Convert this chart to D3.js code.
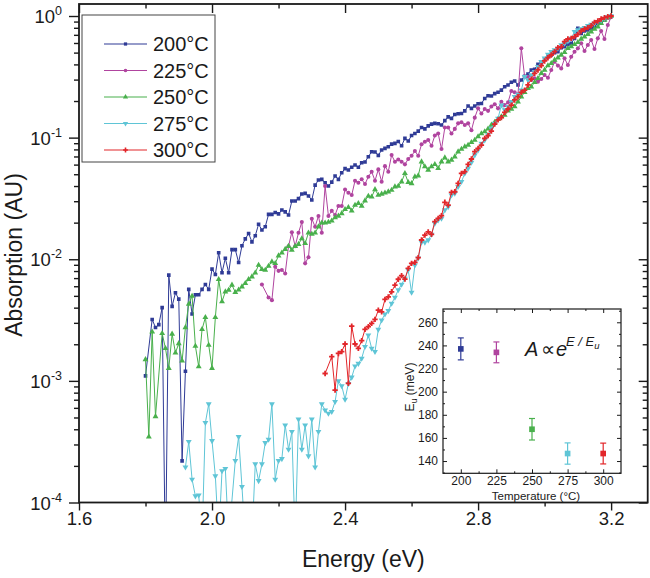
<!DOCTYPE html>
<html><head><meta charset="utf-8">
<script src="https://cdn.jsdelivr.net/npm/d3@7"></script>
<style>
body{margin:0;background:#fff}
svg{display:block}
text{font-family:"Liberation Sans",Arial,Helvetica,sans-serif;fill:#1a1a1a}
</style>
</head><body>
<svg id="chart" width="650" height="578"></svg>
<script>
// ---------------- DATA ----------------
const energies = [
1.80,1.81,1.82,1.83,1.84,1.85,1.86,1.87,1.88,1.89,
1.90,1.91,1.92,1.93,1.94,1.95,1.96,1.97,1.98,1.99,
2.00,2.01,2.02,2.03,2.04,2.05,2.06,2.07,2.08,2.09,
2.10,2.11,2.12,2.13,2.14,2.15,2.16,2.17,2.18,2.19,
2.20,2.21,2.22,2.23,2.24,2.25,2.26,2.27,2.28,2.29,
2.30,2.31,2.32,2.33,2.34,2.35,2.36,2.37,2.38,2.39,
2.40,2.41,2.42,2.43,2.44,2.45,2.46,2.47,2.48,2.49,
2.50,2.51,2.52,2.53,2.54,2.55,2.56,2.57,2.58,2.59,
2.60,2.61,2.62,2.63,2.64,2.65,2.66,2.67,2.68,2.69,
2.70,2.71,2.72,2.73,2.74,2.75,2.76,2.77,2.78,2.79,
2.80,2.81,2.82,2.83,2.84,2.85,2.86,2.87,2.88,2.89,
2.90,2.91,2.92,2.93,2.94,2.95,2.96,2.97,2.98,2.99,
3.00,3.01,3.02,3.03,3.04,3.05,3.06,3.07,3.08,3.09,
3.10,3.11,3.12,3.13,3.14,3.15,3.16,3.17,3.18,3.19,
3.20];

const abs200 = [
1.1e-3,null,3.2e-3,2.75e-3,2.9e-3,4.0e-3,3e-5,7.4e-3,4.1e-3,5.3e-3,
4.7e-3,2.2e-4,1.2e-3,5.65e-3,3.55e-3,5.1e-3,5.1e-3,5.65e-3,6.2e-3,5.65e-3,
8.3e-3,7.5e-3,1.13e-2,7.75e-3,1.02e-2,7.75e-3,1.2e-2,1.2e-2,9.4e-3,1.29e-2,
1.47e-2,1.63e-2,1.39e-2,1.56e-2,1.94e-2,1.74e-2,1.85e-2,2.34e-2,2.34e-2,2.42e-2,
2.36e-2,2.54e-2,2.45e-2,2.31e-2,3.01e-2,3.01e-2,3.15e-2,3.44e-2,3.48e-2,3.31e-2,
3.07e-2,4.07e-2,4.48e-2,4.54e-2,4.26e-2,4.0e-2,4.31e-2,4.83e-2,4.54e-2,5.15e-2,
5.56e-2,5.42e-2,5.7e-2,5.96e-2,5.7e-2,6.22e-2,6.3e-2,6.97e-2,7.66e-2,7.61e-2,
7.15e-2,7.91e-2,8.16e-2,8.42e-2,8.85e-2,8.97e-2,9.3e-2,8.58e-2,9.86e-2,9.37e-2,
0.104,0.108,0.113,0.121,0.118,0.125,0.129,0.131,0.130,0.127,
0.138,0.148,0.144,0.155,0.157,0.158,0.166,0.182,0.174,0.182,
0.190,0.191,0.210,0.221,0.220,0.230,0.236,0.246,0.262,0.271,
0.285,0.292,0.271,0.298,0.319,0.333,0.360,0.364,0.401,0.413,
0.440,0.463,0.478,0.500,0.509,0.549,0.560,0.585,0.596,0.655,
0.792,0.720,0.753,0.767,0.792,0.817,0.871,0.871,0.927,0.969,
0.99];

const abs225 = [
null,null,null,null,null,null,null,null,null,null,
null,null,null,null,null,null,null,null,null,null,
null,null,null,null,null,null,null,null,null,null,
null,null,null,null,null,6.2e-3,null,4.84e-3,4.61e-3,8.67e-3,
8.03e-3,8.15e-3,7.64e-3,1.28e-2,1.67e-2,1.28e-2,1.65e-2,2.02e-2,9.25e-3,1.04e-2,
2.15e-2,1.85e-2,2.27e-2,1.65e-2,4.0e-2,2.27e-2,2.5e-2,2.31e-2,2.74e-2,2.74e-2,
3.75e-2,3.52e-2,3.37e-2,4.42e-2,4.26e-2,4.54e-2,4.15e-2,4.77e-2,5.25e-2,4.42e-2,
5.48e-2,4.34e-2,5.83e-2,5.25e-2,7.19e-2,6.34e-2,6.6e-2,6.34e-2,6.03e-2,6.67e-2,
7.1e-2,7.76e-2,7.1e-2,8.81e-2,9.26e-2,9.55e-2,8.58e-2,0.104,0.108,8.05e-2,
0.121,0.121,0.108,0.118,0.131,0.134,0.127,0.131,0.115,0.146,
0.174,0.158,0.172,0.166,0.180,0.188,0.174,0.197,0.185,0.195,
0.242,0.236,0.227,0.542,0.317,0.317,0.298,0.307,0.288,0.303,
0.327,0.311,0.360,0.421,0.391,0.371,0.449,0.395,0.463,0.509,
0.542,0.596,0.515,0.578,0.635,0.535,0.655,0.753,0.647,0.843,
0.98];

const abs250 = [
1.5e-3,3.47e-4,2.53e-3,5.1e-4,null,2.46e-3,1.85e-3,1.27e-3,2.43e-3,1.70e-3,
2.03e-3,1.46e-3,2.75e-3,4.28e-3,4.98e-3,1.93e-3,1.31e-3,2.65e-3,3.33e-3,1.97e-3,
1.27e-3,3.33e-3,6.83e-3,4.48e-3,5.41e-3,5.58e-3,6.14e-3,5.35e-3,5.6e-3,5.94e-3,
6.33e-3,6.83e-3,7.18e-3,7.74e-3,8.95e-3,8.25e-3,8.15e-3,8.79e-3,9.55e-3,9.25e-3,
1.07e-2,1.13e-2,1.21e-2,1.28e-2,1.19e-2,1.28e-2,1.33e-2,1.48e-2,1.35e-2,1.65e-2,
1.61e-2,1.65e-2,1.85e-2,1.99e-2,1.99e-2,2.02e-2,2.07e-2,2.2e-2,2.27e-2,2.38e-2,
2.57e-2,2.67e-2,2.5e-2,2.79e-2,2.88e-2,2.74e-2,3.03e-2,3.31e-2,3.26e-2,3.75e-2,
3.37e-2,3.44e-2,3.52e-2,3.59e-2,3.7e-2,3.95e-2,4.0e-2,4.34e-2,5.08e-2,4.29e-2,
4.2e-2,4.77e-2,4.86e-2,6.34e-2,5.77e-2,5.42e-2,5.77e-2,6.03e-2,5.59e-2,6.34e-2,
6.84e-2,6.34e-2,6.55e-2,6.97e-2,7.66e-2,8.05e-2,8.42e-2,8.69e-2,9.14e-2,9.55e-2,
0.102,0.108,0.112,0.118,0.127,0.134,0.142,0.149,0.153,0.166,
0.172,0.180,0.197,0.217,0.236,0.254,0.262,0.285,0.307,0.338,
0.360,0.391,0.408,0.435,0.454,0.478,0.502,0.542,0.560,0.585,
0.607,0.647,0.676,0.707,0.743,0.782,0.817,0.871,0.927,0.969,
1.0];

const abs275 = [
null,null,null,null,null,null,null,null,null,null,
null,null,1.95e-4,3.16e-4,1.55e-4,1.13e-4,1.15e-4,5e-5,4.53e-4,6.45e-4,
3.22e-4,1.65e-4,5e-5,1.82e-4,1.9e-4,5e-5,null,2.21e-4,3.47e-4,1.35e-4,
5e-5,3e-5,5e-5,2.07e-4,1.51e-4,2.07e-4,3.1e-4,3.3e-4,6.45e-4,1.55e-4,
2.21e-4,2.29e-4,4.33e-4,2.73e-4,3.82e-4,5e-5,4.83e-4,2.73e-4,4.33e-4,2.41e-4,
4.83e-4,1.95e-4,3.82e-4,6.45e-4,5.75e-4,5.4e-4,5.58e-4,6.75e-4,1.0e-3,9.1e-4,
7.05e-4,9.5e-4,1.07e-3,1.32e-3,1.39e-3,1.53e-3,1.91e-3,2.38e-3,1.85e-3,1.74e-3,
2.65e-3,3.16e-3,3.54e-3,3.77e-3,4.34e-3,4.85e-3,5.6e-3,6.21e-3,6.96e-3,8.15e-3,
5.34e-3,8.95e-3,1.02e-2,1.38e-2,1.38e-2,1.44e-2,1.6e-2,1.97e-2,2.1e-2,2.17e-2,
2.54e-2,2.7e-2,3.37e-2,3.48e-2,3.95e-2,4.34e-2,5.08e-2,5.59e-2,6.26e-2,7.19e-2,
7.91e-2,8.97e-2,9.55e-2,0.105,0.119,0.131,0.144,0.185,0.169,0.180,
0.197,0.217,0.227,0.246,0.317,0.298,0.327,0.348,0.383,0.421,
0.449,0.484,0.509,0.525,0.542,0.578,0.596,0.623,0.655,0.743,
0.767,0.782,0.802,0.833,0.854,0.871,0.898,0.927,0.957,0.981,
1.0];

const abs300 = [
null,null,null,null,null,null,null,null,null,null,
null,null,null,null,null,null,null,null,null,null,
null,null,null,null,null,null,null,null,null,null,
null,null,null,null,null,null,null,null,null,null,
null,null,null,null,null,null,null,null,null,null,
null,null,null,null,1.15e-3,null,1.58e-3,8.4e-4,1.68e-3,1.74e-3,
2.01e-3,9.55e-4,2.82e-3,2.01e-3,1.85e-3,2.14e-3,2.65e-3,2.79e-3,2.97e-3,3.2e-3,
3.82e-3,3.7e-3,4.67e-3,4.91e-3,5.4e-3,6.12e-3,6.85e-3,7.33e-3,6.87e-3,8.41e-3,
9.25e-3,9.42e-3,1.03e-2,1.44e-2,1.58e-2,1.68e-2,1.6e-2,2.04e-2,2.17e-2,2.28e-2,
2.94e-2,2.79e-2,3.55e-2,3.59e-2,4.2e-2,5.08e-2,5.25e-2,6.03e-2,6.67e-2,7.66e-2,
8.16e-2,8.69e-2,9.86e-2,0.104,0.113,0.129,0.140,0.146,0.161,0.172,
0.185,0.204,0.217,0.236,0.246,0.271,0.303,0.338,0.360,0.391,
0.427,0.454,0.478,0.509,0.549,0.560,0.615,0.647,0.655,0.676,
0.707,0.753,0.782,0.802,0.833,0.887,0.910,0.945,0.969,0.987,
1.0];

const seriesLabels = ["200°C","225°C","250°C","275°C","300°C"];
const xTickValues = [1.6, 2.0, 2.4, 2.8, 3.2];
const xTickLabels = ["1.6","2.0","2.4","2.8","3.2"];
const yTickExponents = [0, -1, -2, -3, -4];

// inset data
const insetTemps = [200, 225, 250, 275, 300];
const insetEu = [237, 234, 167.5, 146.5, 146.5];
const insetErr = [9.5, 9, 9.3, 9.2, 9];
const insetXTicks = [200, 225, 250, 275, 300];
const insetYTicks = [140, 160, 180, 200, 220, 240, 260];

// ---------------- STYLE ----------------
const colors = ["#2f3b96", "#b0449f", "#49b04c", "#5fc5d6", "#e2262a"];
const symbols = [d3.symbolSquare, d3.symbolCircle, d3.symbolTriangle, d3.symbolTriangle, d3.symbolCross];
const symSizes = [13, 13, 15, 15, 16];
const symRot = [0, 0, 0, 180, 0];
const ink = "#1a1a1a";

const svg = d3.select("#chart");
const L = 79, R = 647.7, T = 4, B = 502.5;

const x = d3.scaleLinear().domain([1.6, 3.31]).range([L, R]);
const y = d3.scaleLog().domain([1e-4, Math.pow(10, 0.0987)]).range([B, T]);

svg.append("defs").append("clipPath").attr("id", "plotclip")
  .append("rect").attr("x", L).attr("y", T).attr("width", R - L).attr("height", B - T);

// ---------------- SERIES ----------------
const plot = svg.append("g").attr("clip-path", "url(#plotclip)");
const allSeries = [abs200, abs225, abs250, abs275, abs300];
const line = d3.line().x(d => x(d.e)).y(d => y(d.v));

allSeries.forEach((vals, si) => {
  const pts = energies.map((e, i) => ({e, v: vals[i]})).filter(d => d.v != null);
  plot.append("path").datum(pts)
    .attr("d", line).attr("fill", "none")
    .attr("stroke", colors[si]).attr("stroke-width", 1).attr("stroke-linejoin", "round");
  const sym = d3.symbol().type(symbols[si]).size(symSizes[si]);
  plot.append("g").selectAll("path").data(pts).join("path")
    .attr("d", sym)
    .attr("transform", d => `translate(${x(d.e)},${y(d.v)}) rotate(${symRot[si]})`)
    .attr("fill", colors[si]);
});

// ---------------- AXES ----------------
function styleAxis(g) {
  g.select(".domain").remove();
  g.selectAll(".tick line").attr("stroke", ink).attr("stroke-width", 1.4);
}
const xMinor = [1.8, 2.2, 2.6, 3.0];
const yMinor = [];
for (let d = -4; d < 0; d++) for (let m = 2; m <= 9; m++) yMinor.push(m * Math.pow(10, d));

// bottom
svg.append("g").attr("transform", `translate(0,${B})`)
  .call(d3.axisBottom(x).tickValues(xTickValues).tickFormat((d, i) => xTickLabels[i]).tickSize(8).tickPadding(1.5))
  .call(styleAxis)
  .call(g => g.selectAll("text").attr("font-size", 18.5).attr("fill", ink)
        .attr("font-family", "Liberation Sans, Arial, sans-serif"));
svg.append("g").attr("transform", `translate(0,${B})`)
  .call(d3.axisBottom(x).tickValues(xMinor).tickFormat("").tickSize(4)).call(styleAxis);
// top
svg.append("g").attr("transform", `translate(0,${T})`)
  .call(d3.axisTop(x).tickValues(xTickValues).tickFormat("").tickSize(-9)).call(styleAxis);
svg.append("g").attr("transform", `translate(0,${T})`)
  .call(d3.axisTop(x).tickValues(xMinor).tickFormat("").tickSize(-4.5)).call(styleAxis);
// left
const yMajorVals = yTickExponents.map(p => Math.pow(10, p));
const leftAx = svg.append("g").attr("transform", `translate(${L},0)`)
  .call(d3.axisLeft(y).tickValues(yMajorVals).tickFormat(() => "").tickSize(10).tickPadding(7))
  .call(styleAxis);
leftAx.selectAll(".tick text").each(function(d, i) {
  const t = d3.select(this).attr("font-size", 18.5).attr("dy", null).attr("y", 6.5)
    .attr("font-family", "Liberation Sans, Arial, sans-serif").attr("fill", ink);
  t.append("tspan").text("10");
  t.append("tspan").attr("font-size", 12.5).attr("dy", -8).text(String(yTickExponents[i]));
});
svg.append("g").attr("transform", `translate(${L},0)`)
  .call(d3.axisLeft(y).tickValues(yMinor).tickFormat("").tickSize(5)).call(styleAxis);
// right
svg.append("g").attr("transform", `translate(${R},0)`)
  .call(d3.axisRight(y).tickValues(yMajorVals).tickFormat("").tickSize(-9)).call(styleAxis);
svg.append("g").attr("transform", `translate(${R},0)`)
  .call(d3.axisRight(y).tickValues(yMinor).tickFormat("").tickSize(-5)).call(styleAxis);

// frame
svg.append("rect").attr("x", L).attr("y", T).attr("width", R - L).attr("height", B - T)
  .attr("fill", "none").attr("stroke", ink).attr("stroke-width", 1.8);

// axis titles
svg.append("text").attr("x", (L + R) / 2).attr("y", 567).attr("text-anchor", "middle")
  .attr("font-size", 23).text("Energy (eV)");
svg.append("text").attr("transform", "translate(21.5,255) rotate(-90)").attr("text-anchor", "middle")
  .attr("font-size", 23).text("Absorption (AU)");

// ---------------- LEGEND ----------------
const lg = svg.append("g");
lg.append("rect").attr("x", 82).attr("y", 15).attr("width", 133).attr("height", 147)
  .attr("fill", "#fff").attr("stroke", "#444").attr("stroke-width", 1);
seriesLabels.forEach((lab, i) => {
  const yy = 44 + i * 26.5;
  lg.append("line").attr("x1", 104).attr("x2", 147).attr("y1", yy).attr("y2", yy)
    .attr("stroke", colors[i]).attr("stroke-width", 1.1);
  lg.append("path").attr("d", d3.symbol().type(symbols[i]).size(symSizes[i] * 0.8))
    .attr("transform", `translate(125.5,${yy}) rotate(${symRot[i]})`).attr("fill", colors[i]);
  lg.append("text").attr("x", 153).attr("y", yy).attr("dy", "0.36em")
    .attr("font-size", 20).text(lab);
});

// ---------------- INSET ----------------
const iL = 443, iR = 621, iT = 309, iB = 473.3;
const ix = d3.scaleLinear().domain([187.5, 312.5]).range([iL, iR]);
const iy = d3.scaleLinear().domain([129.4, 271.5]).range([iB, iT]);
const inset = svg.append("g");
inset.append("rect").attr("x", iL).attr("y", iT).attr("width", iR - iL).attr("height", iB - iT)
  .attr("fill", "#fff");

const ixMinor = [212.5, 237.5, 262.5, 287.5];
const iyMinor = [130, 150, 170, 190, 210, 230, 250, 270];
function styleInset(g) {
  g.select(".domain").remove();
  g.selectAll(".tick line").attr("stroke", ink).attr("stroke-width", 1);
  g.selectAll(".tick text").attr("font-size", 12).attr("fill", ink)
    .attr("font-family", "Liberation Sans, Arial, sans-serif");
}
inset.append("g").attr("transform", `translate(0,${iB})`)
  .call(d3.axisBottom(ix).tickValues(insetXTicks).tickFormat(d3.format("d")).tickSize(-4).tickPadding(3.5)).call(styleInset);
inset.append("g").attr("transform", `translate(0,${iB})`)
  .call(d3.axisBottom(ix).tickValues(ixMinor).tickFormat("").tickSize(-2)).call(styleInset);
inset.append("g").attr("transform", `translate(0,${iT})`)
  .call(d3.axisTop(ix).tickValues(insetXTicks).tickFormat("").tickSize(-4)).call(styleInset);
inset.append("g").attr("transform", `translate(0,${iT})`)
  .call(d3.axisTop(ix).tickValues(ixMinor).tickFormat("").tickSize(-2)).call(styleInset);
inset.append("g").attr("transform", `translate(${iL},0)`)
  .call(d3.axisLeft(iy).tickValues(insetYTicks).tickFormat(d3.format("d")).tickSize(-4).tickPadding(5)).call(styleInset);
inset.append("g").attr("transform", `translate(${iL},0)`)
  .call(d3.axisLeft(iy).tickValues(iyMinor).tickFormat("").tickSize(-2)).call(styleInset);
inset.append("g").attr("transform", `translate(${iR},0)`)
  .call(d3.axisRight(iy).tickValues(insetYTicks).tickFormat("").tickSize(-4)).call(styleInset);
inset.append("g").attr("transform", `translate(${iR},0)`)
  .call(d3.axisRight(iy).tickValues(iyMinor).tickFormat("").tickSize(-2)).call(styleInset);
inset.append("rect").attr("x", iL).attr("y", iT).attr("width", iR - iL).attr("height", iB - iT)
  .attr("fill", "none").attr("stroke", ink).attr("stroke-width", 1.2);

// error bars + points
insetTemps.forEach((t, i) => {
  const cx = ix(t), c = colors[i];
  const y1 = iy(insetEu[i] + insetErr[i]), y2 = iy(insetEu[i] - insetErr[i]);
  inset.append("line").attr("x1", cx).attr("x2", cx).attr("y1", y1).attr("y2", y2).attr("stroke", c).attr("stroke-width", 1.2);
  [y1, y2].forEach(yy => inset.append("line").attr("x1", cx - 3).attr("x2", cx + 3).attr("y1", yy).attr("y2", yy)
    .attr("stroke", c).attr("stroke-width", 1.2));
  inset.append("path").attr("d", d3.symbol().type(d3.symbolSquare).size(32))
    .attr("transform", `translate(${cx},${iy(insetEu[i])})`).attr("fill", c);
});

// inset titles
inset.append("text").attr("x", 536).attr("y", 500).attr("text-anchor", "middle").attr("font-size", 11.5)
  .text("Temperature (°C)");
const ylab = inset.append("text").attr("transform", "translate(414,387) rotate(-90)")
  .attr("text-anchor", "middle").attr("font-size", 12);
ylab.append("tspan").text("E");
ylab.append("tspan").attr("font-size", 8.5).attr("dy", 3).text("u");
ylab.append("tspan").attr("dy", -3).text(" (meV)");

// formula
const f = inset.append("text").attr("y", 356).attr("font-family", "Liberation Serif, Times New Roman, serif")
  .attr("font-size", 20);
f.append("tspan").attr("x", 525).attr("font-style", "italic").text("A");
f.append("tspan").attr("x", 541).text("∝");
f.append("tspan").attr("x", 556).attr("font-style", "italic").text("e");
f.append("tspan").attr("x", 566).attr("dy", -10).attr("font-size", 13).attr("font-style", "italic").text("E / E");
f.append("tspan").attr("dy", 3).attr("font-size", 9.5).attr("font-style", "italic").text("u");
</script>
</body></html>
